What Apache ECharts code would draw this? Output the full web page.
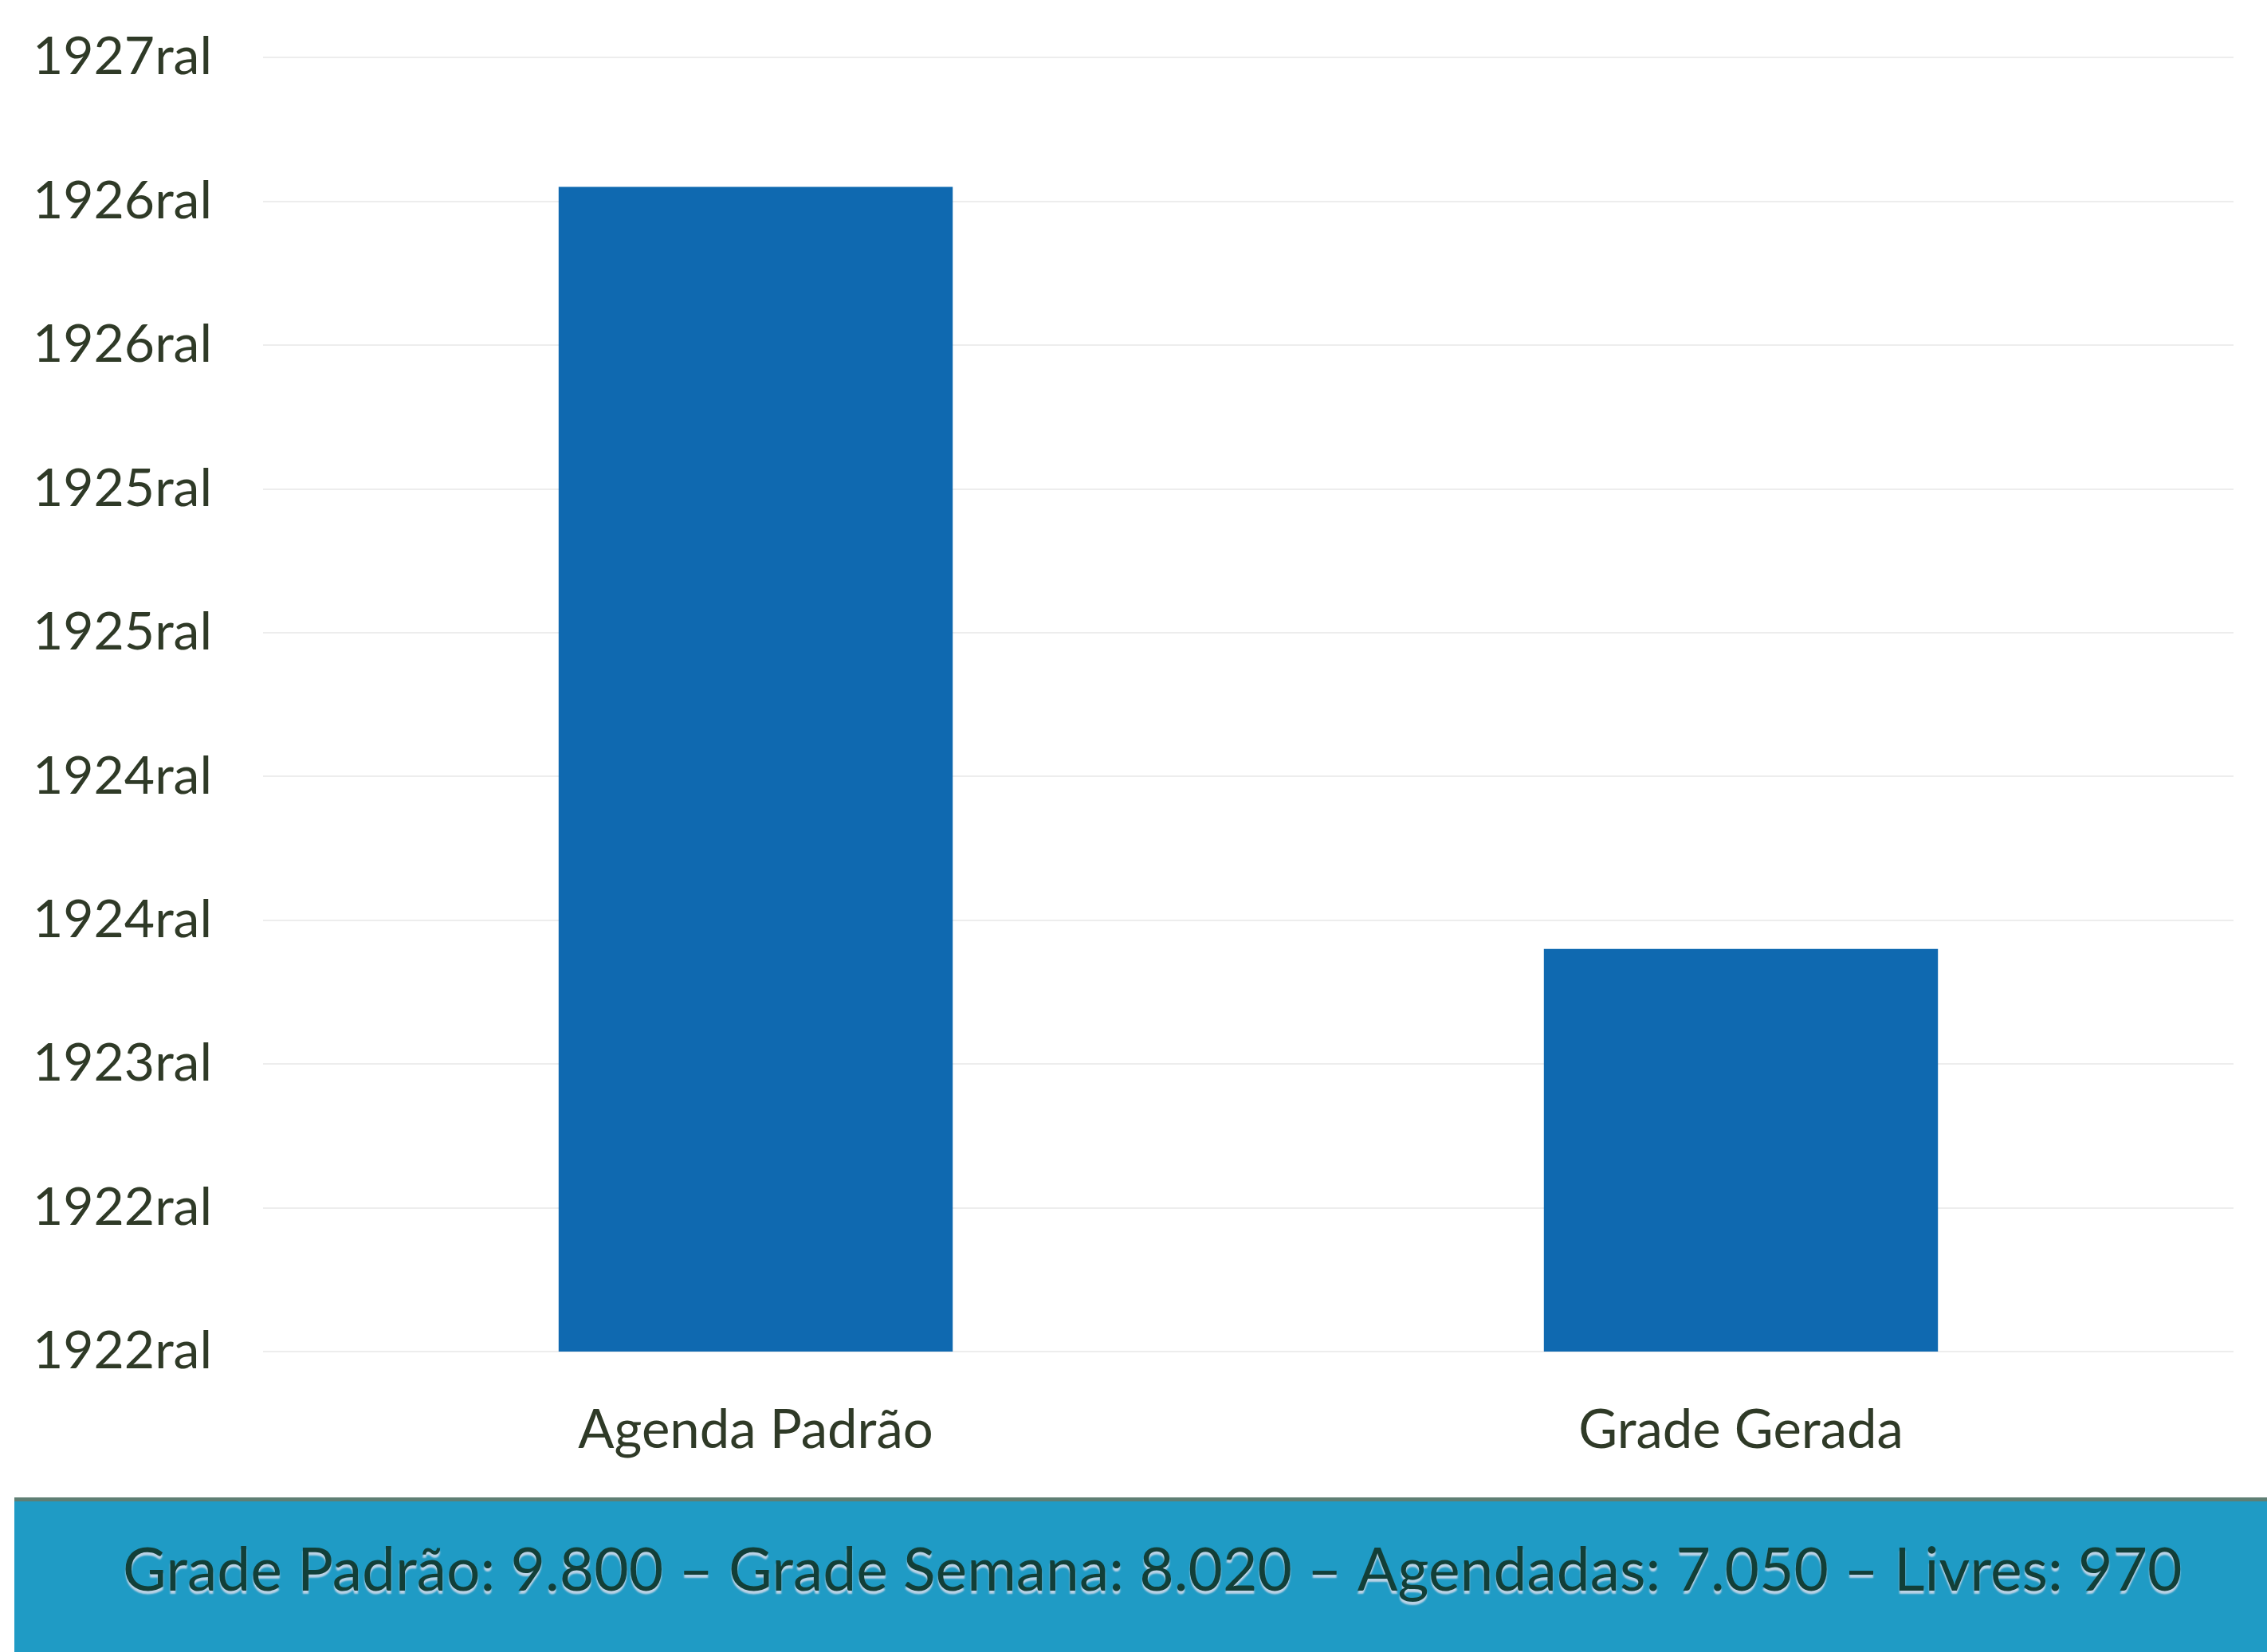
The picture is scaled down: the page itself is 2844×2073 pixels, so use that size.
<!DOCTYPE html>
<html>
<head>
<meta charset="utf-8">
<title>Agenda Padrão x Grade Gerada</title>
<script src="https://cdn.jsdelivr.net/npm/echarts@6/dist/echarts.min.js"></script>
<style>
  html, body { margin: 0; padding: 0; background: #ffffff; }
  #chart { width: 2844px; height: 2073px; }
</style>
</head>
<body>
<div id="chart"></div>
<script>
// Categories and bar values (axis values are spreadsheet date serials)
const categories = ['Agenda Padrão', 'Grade Gerada'];
const barValues = [9820, 8760];

// Value axis: serials from 8200 to 10000, one tick every 200
const axisMin = 8200;
const axisMax = 10000;
const axisStep = 200;
// Tick labels from bottom to top, as printed with the "Geral" format
const tickLabels = ['1922ral', '1922ral', '1923ral', '1924ral', '1924ral',
                    '1925ral', '1925ral', '1926ral', '1926ral', '1927ral'];

// Summary line shown in the footer band
const summaryText = 'Grade Padrão: 9.800 – Grade Semana: 8.020 – Agendadas: 7.050 – Livres: 970';

const chart = echarts.init(document.getElementById('chart'), null, { renderer: 'canvas' });

const textColor = '#2f3a27';
const fontFamily = 'Lato, "Open Sans", sans-serif';

chart.setOption({
  animation: false,
  backgroundColor: '#ffffff',
  grid: { left: 330, right: 42, top: 72, bottom: 377, containLabel: false },
  xAxis: {
    type: 'category',
    data: categories,
    axisLine: { show: false },
    axisTick: { show: false },
    axisLabel: {
      color: textColor,
      fontFamily: fontFamily,
      fontSize: 67,
      margin: 66
    }
  },
  yAxis: {
    type: 'value',
    min: axisMin,
    max: axisMax,
    interval: axisStep,
    axisLine: { show: false },
    axisTick: { show: false },
    splitLine: { lineStyle: { color: '#ededed', width: 2 } },
    axisLabel: {
      color: textColor,
      fontFamily: fontFamily,
      fontSize: 66,
      margin: 64,
      formatter: function (v) {
        const i = Math.round((v - axisMin) / axisStep);
        return tickLabels[i] !== undefined ? tickLabels[i] : '';
      }
    }
  },
  series: [{
    type: 'bar',
    data: barValues,
    barWidth: '40%',
    itemStyle: { color: '#0f69b0' }
  }],
  graphic: [
    {
      type: 'rect',
      left: 18,
      top: 1881,
      shape: { width: 2826, height: 192 },
      style: { fill: '#1f9bc5' },
      z: 1
    },
    {
      type: 'rect',
      left: 18,
      top: 1879,
      shape: { width: 2826, height: 5 },
      style: { fill: '#5f7f74' },
      z: 2
    },
    {
      type: 'text',
      left: 154,
      top: 1934,
      style: {
        text: summaryText,
        fill: '#123f38',
        font: '75px ' + fontFamily,
        textShadowColor: 'rgba(255,235,245,0.7)',
        textShadowOffsetY: 4,
        textShadowBlur: 2
      },
      z: 3
    }
  ]
});
</script>
</body>
</html>
